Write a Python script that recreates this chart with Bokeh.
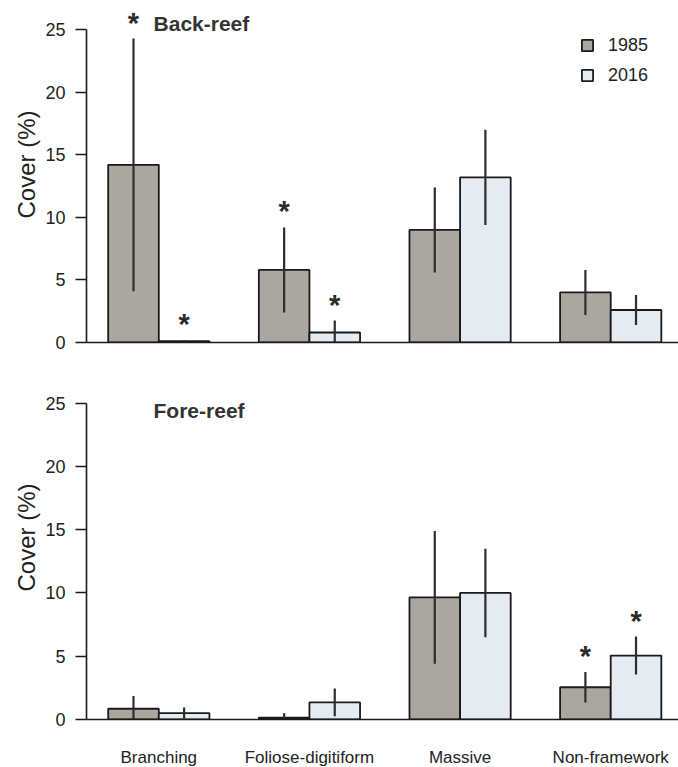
import numpy as np
from bokeh.plotting import figure
from bokeh.models import (ColumnDataSource, Range1d, FixedTicker, Legend,
                          LegendItem, Label, Title)
from bokeh.layouts import column
from bokeh.core.properties import value
from bokeh.embed import file_html
from bokeh.resources import INLINE

# ---------------- data ----------------
categories = ["Branching", "Foliose-digitiform", "Massive", "Non-framework"]
years = ["1985", "2016"]

back_1985 = [14.2, 5.8, 9.0, 4.0]
back_1985_err = [10.1, 3.4, 3.4, 1.8]
back_2016 = [0.1, 0.8, 13.2, 2.6]
back_2016_err = [0.1, 0.95, 3.8, 1.2]
back_sig_1985 = [True, True, False, False]
back_sig_2016 = [True, True, False, False]

fore_1985 = [0.85, 0.15, 9.65, 2.55]
fore_1985_err = [1.0, 0.35, 5.25, 1.2]
fore_2016 = [0.5, 1.35, 10.0, 5.05]
fore_2016_err = [0.45, 1.1, 3.5, 1.5]
fore_sig_1985 = [False, False, False, True]
fore_sig_2016 = [False, False, False, True]

y_ticks = [0, 5, 10, 15, 20, 25]
y_label = "Cover (%)"

# ---------------- style ----------------
FONT = "Liberation Sans"
C1985 = "#aaa7a0"
C2016 = "#e4ebf1"
EDGE = "#1a1a1a"
ERR = "#2e2e2e"
TXT = "#222222"
BAR_W = 0.336
OFF = 0.168
X0, X1 = -0.48, 3.45


def make_panel(v85, e85, v16, e16, s85, s16, title, title_y, y_end,
               show_labels, with_legend, fh, bt, bb, label_offset):
    p = figure(frame_width=592, frame_height=fh, min_border_left=86,
               min_border_right=0, min_border_top=bt, min_border_bottom=bb,
               x_range=Range1d(X0, X1), y_range=Range1d(0, y_end),
               output_backend="svg", toolbar_location=None,
               background_fill_color="white", border_fill_color="white")
    p.outline_line_color = None
    p.xgrid.visible = False
    p.ygrid.visible = False

    idx = np.arange(len(categories))
    handles = []
    for vals, errs, sig, off, col in ((v85, e85, s85, -OFF, C1985),
                                      (v16, e16, s16, OFF, C2016)):
        vals = np.array(vals, dtype=float)
        errs = np.array(errs, dtype=float)
        src = ColumnDataSource(dict(x=idx + off, top=vals,
                                    lo=np.clip(vals - errs, 0, None),
                                    hi=vals + errs))
        r = p.vbar(x="x", top="top", bottom=0, width=BAR_W, source=src,
                   fill_color=col, line_color=EDGE, line_width=1.8)
        handles.append(r)
        p.segment(x0="x", y0="lo", x1="x", y1="hi", source=src,
                  line_color=ERR, line_width=2.2)
        sig = np.array(sig)
        ssrc = ColumnDataSource(dict(x=(idx + off)[sig], y=(vals + errs)[sig],
                                     t=["*"] * int(sig.sum())))
        p.text(x="x", y="y", text="t", source=ssrc, text_align="center",
               text_baseline="bottom", text_font=value(FONT),
               text_font_size="29px", text_font_style="bold",
               text_color="#2a2a2a")

    p.add_layout(Label(x=-0.035, y=title_y, text=title, text_align="left",
                       text_baseline="middle", text_font=FONT,
                       text_font_size="21px", text_font_style="bold",
                       text_color="#333333"))

    # y axis
    ya = p.yaxis[0]
    ya.bounds = (0, 25)
    ya.ticker = FixedTicker(ticks=y_ticks)
    ya.major_tick_out = 11
    ya.major_tick_in = 0
    ya.minor_tick_out = 0
    ya.minor_tick_in = 0
    ya.axis_line_width = 1.6
    ya.axis_line_color = EDGE
    ya.major_tick_line_width = 1.6
    ya.major_tick_line_color = EDGE
    ya.major_label_text_font = FONT
    ya.major_label_text_font_size = "18px"
    ya.major_label_text_color = TXT
    ya.major_label_standoff = 10

    # y axis label as a side title, shifted up along the axis
    p.add_layout(Title(text=y_label, align="left", offset=label_offset,
                       text_font=FONT, text_font_size="24px",
                       text_font_style="normal", text_color=TXT,
                       standoff=6), "left")

    # x axis
    xa = p.xaxis[0]
    xa.ticker = FixedTicker(ticks=list(range(len(categories))))
    xa.major_tick_out = 0
    xa.major_tick_in = 0
    xa.minor_tick_out = 0
    xa.minor_tick_in = 0
    xa.axis_line_width = 1.6
    xa.axis_line_color = EDGE
    if show_labels:
        xa.major_label_overrides = {i: c for i, c in enumerate(categories)}
        xa.major_label_text_font = FONT
        xa.major_label_text_font_size = "17px"
        xa.major_label_text_color = TXT
        xa.major_label_standoff = 28
    else:
        xa.major_label_overrides = {i: "" for i in range(len(categories))}
        xa.major_label_text_font_size = "0px"
        xa.major_label_standoff = 0

    if with_legend:
        leg = Legend(items=[LegendItem(label=years[0], renderers=[handles[0]]),
                            LegendItem(label=years[1], renderers=[handles[1]])],
                     location=(494, 255), padding=0, spacing=6, margin=0,
                     glyph_width=14, glyph_height=14, label_height=24,
                     label_standoff=14, border_line_color=None,
                     background_fill_alpha=0, label_text_font=FONT,
                     label_text_font_size="18px", label_text_color=TXT)
        p.add_layout(leg)
    return p


top = make_panel(back_1985, back_1985_err, back_2016, back_2016_err,
                 back_sig_1985, back_sig_2016, "Back-reef", 25.5, 26.7,
                 False, True, 334, 8, 18, 124)
bottom = make_panel(fore_1985, fore_1985_err, fore_2016, fore_2016_err,
                    fore_sig_1985, fore_sig_2016, "Fore-reef", 24.4, 26.0,
                    True, False, 329, 30, 48, 128)

layout = column(top, bottom, spacing=0)
open("out.html", "w").write(file_html(layout, INLINE))
